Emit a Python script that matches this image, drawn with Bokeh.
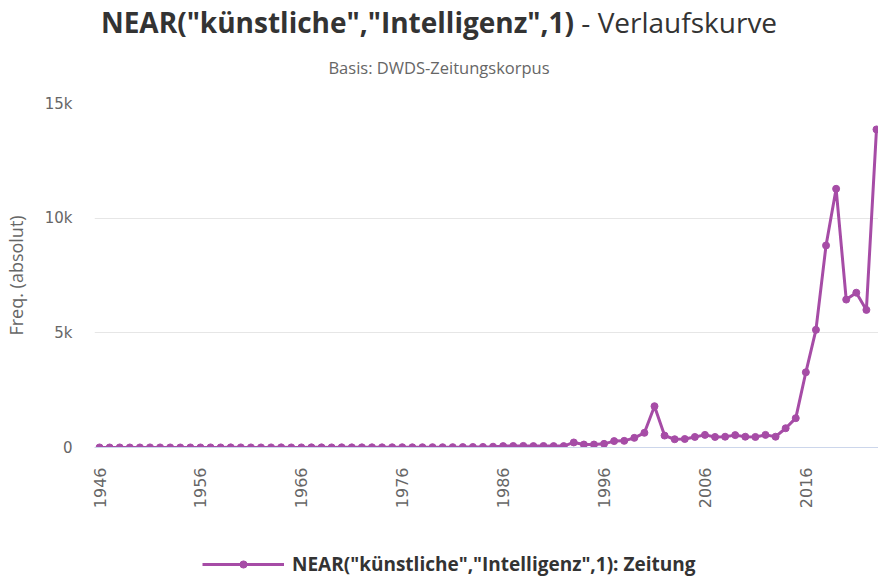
from math import pi
from bokeh.plotting import figure
from bokeh.layouts import column
from bokeh.models import Range1d, FixedTicker, Legend, LegendItem, Div
from bokeh.embed import file_html
from bokeh.resources import INLINE

years = list(range(1946, 2024))
freq = [3, 2, 4, 2, 3, 5, 4, 3, 2, 4, 3, 5, 4, 6, 5, 4, 3, 5, 6, 4,
        5, 7, 6, 5, 8, 6, 7, 9, 8, 10, 12, 9, 11, 14, 12, 15, 18, 22,
        25, 35, 60, 65, 70, 60, 65, 60, 60, 220, 130, 130, 160, 280, 290, 420,
        640, 1800, 520, 360, 370, 460, 550, 460, 470, 540, 470, 460, 550, 470,
        840, 1280, 3280, 5130, 8810, 11280, 6450, 6750, 6000, 13870]
x_ticks = [1946, 1956, 1966, 1976, 1986, 1996, 2006, 2016]
y_ticks = [0, 5000, 10000, 15000]
y_tick_labels = ["0", "5k", "10k", "15k"]
title_bold = 'NEAR("künstliche","Intelligenz",1)'
title_rest = "- Verlaufskurve"
subtitle = "Basis: DWDS-Zeitungskorpus"
series_name = 'NEAR("künstliche","Intelligenz",1): Zeitung'

COLOR = "#a64ca6"
W = 878

# ---- title block (HTML) ----
header = Div(width=W, height=91, margin=0, text=(
    '<div style="width:%dpx;text-align:center;font-family:\'Open Sans\';color:#333333;'
    'font-size:28px;line-height:44px;white-space:nowrap;margin:0;">'
    '<b>%s</b> %s</div>'
    '<div style="width:%dpx;text-align:center;font-family:\'Open Sans\';color:#666666;'
    'font-size:16.5px;line-height:22px;margin:13px 0 0 0;white-space:nowrap;">%s</div>'
) % (W, title_bold, title_rest, W, subtitle))

# ---- main chart ----
p = figure(width=W, height=439, output_backend="svg", toolbar_location=None,
           x_range=Range1d(1945.5, 2023.2), y_range=Range1d(0, 15000),
           min_border_left=92, min_border_right=0, min_border_top=12,
           min_border_bottom=83)
p.outline_line_color = None

line = p.line(years, freq, line_color=COLOR, line_width=3)
dots = p.scatter(years, freq, size=7, fill_color=COLOR, line_color=COLOR)

p.xaxis.ticker = FixedTicker(ticks=x_ticks)
p.xaxis.major_label_orientation = pi / 2
p.xaxis.axis_line_color = "#ccd6eb"
p.xaxis.major_tick_line_color = None
p.xaxis.minor_tick_line_color = None
p.xaxis.major_tick_out = 0
p.xaxis.major_tick_in = 0
p.xaxis.major_label_standoff = 20
p.xaxis.major_label_text_font = "DejaVu Sans"
p.xaxis.major_label_text_font_size = "16px"
p.xaxis.major_label_text_color = "#666666"

p.yaxis.ticker = FixedTicker(ticks=y_ticks)
p.yaxis.major_label_overrides = {t: s for t, s in zip(y_ticks, y_tick_labels)}
p.yaxis.axis_line_color = None
p.yaxis.major_tick_line_color = None
p.yaxis.minor_tick_line_color = None
p.yaxis.major_tick_out = 0
p.yaxis.major_tick_in = 0
p.yaxis.major_label_standoff = 22
p.yaxis.major_label_text_font = "DejaVu Sans"
p.yaxis.major_label_text_font_size = "15px"
p.yaxis.major_label_text_color = "#666666"
p.yaxis.axis_label = "Freq. (absolut)"
p.yaxis.axis_label_text_font = "Open Sans"
p.yaxis.axis_label_text_font_size = "18px"
p.yaxis.axis_label_text_font_style = "normal"
p.yaxis.axis_label_text_color = "#666666"
p.yaxis.axis_label_standoff = 14

p.xgrid.grid_line_color = None
p.ygrid.grid_line_color = "#e6e6e6"
p.ygrid.grid_line_width = 1

# ---- legend strip (its frame is aligned with the chart's frame, left = 92) ----
lg = figure(width=W, height=47, output_backend="svg", toolbar_location=None,
            x_range=Range1d(0, 1), y_range=Range1d(0, 1),
            x_axis_location=None, y_axis_location=None,
            min_border_left=0, min_border_right=0, min_border_top=0,
            min_border_bottom=0)
lg.outline_line_color = None
lg.grid.grid_line_color = None
# same series, hidden here: only used as the legend's symbol
lg_line = lg.line(years, freq, line_color=COLOR, line_width=3, visible=False)
lg_dot = lg.scatter(years, freq, size=7, fill_color=COLOR, line_color=COLOR,
                    visible=False)
legend = Legend(items=[LegendItem(label=series_name, renderers=[lg_line, lg_dot])],
                location=(108, 0), orientation="horizontal", click_policy="none",
                glyph_width=82, glyph_height=18, label_height=24, label_standoff=8,
                label_text_font="Open Sans", label_text_font_size="19px",
                label_text_font_style="bold", label_text_color="#333333",
                label_text_baseline="middle",
                border_line_color=None, background_fill_alpha=0,
                padding=0, margin=0)
lg.add_layout(legend, "center")

layout = column(header, p, lg, spacing=0)
open("out.html", "w").write(file_html(layout, INLINE))
